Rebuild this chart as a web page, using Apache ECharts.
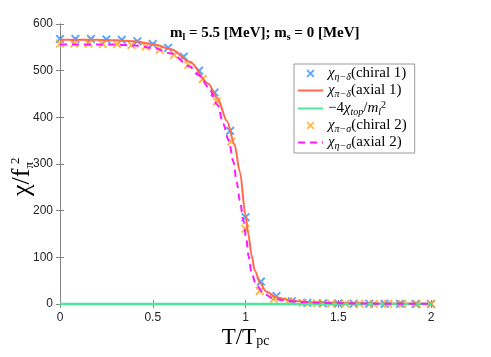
<!DOCTYPE html>
<html>
<head>
<meta charset="utf-8">
<script src="https://cdn.jsdelivr.net/npm/echarts@6/dist/echarts.min.js"></script>
<style>
  html, body { margin: 0; padding: 0; background: #fff; }
  #chart { width: 491px; height: 357px; }
</style>
</head>
<body>
<div id="chart"></div>
<script>
// chi eta-delta (chiral 1), blue crosses
const chiral1T = [0, 0.083, 0.167, 0.25, 0.333, 0.417, 0.5, 0.583, 0.667, 0.75, 0.833, 0.917, 1, 1.083, 1.167, 1.25, 1.333, 1.417, 1.5, 1.583, 1.667, 1.75, 1.833, 1.917, 2]
const chiral1V = [568, 568, 568, 567, 566, 563, 557, 549, 530, 500, 453, 371, 186, 48, 17, 6, 2.5, 1.5, 1.2, 0.8, 0.6, 0.4, 0.3, 0.2, 0.2]
// chi pi-delta (axial 1), solid line
const axial1T = [0, 0.1, 0.2, 0.3, 0.4, 0.5, 0.6, 0.7, 0.8, 0.85, 0.9, 0.94, 0.97, 1, 1.015, 1.033, 1.05, 1.08, 1.11, 1.17, 1.25, 1.35, 1.5, 1.7, 2]
const axial1V = [566, 566, 566, 565, 563, 557, 546, 519, 472, 440, 392, 343, 283, 190, 150, 104, 72, 44, 27, 14, 7, 4, 2, 1, 0.5]
// -4 chi_top / m_l^2
const topoT = [0, 0.5, 1, 1.5, 2]
const topoV = [0, 0, 0, 0, 0]
// chi pi-sigma (chiral 2), orange crosses
const chiral2T = [0, 0.077, 0.154, 0.231, 0.308, 0.385, 0.462, 0.538, 0.615, 0.692, 0.769, 0.846, 0.923, 1, 1.077, 1.154, 1.231, 1.308, 1.385, 1.462, 1.538, 1.615, 1.692, 1.769, 1.846, 1.923, 2]
const chiral2V = [558, 558, 558, 557, 557, 555, 552, 545, 534, 512, 482, 434, 348, 161, 28, 11, 6, 2.5, 1.5, 1, 0.7, 0.5, 0.4, 0.3, 0.2, 0.2, 0.1]
// chi eta-sigma (axial 2), dashed line
const axial2T = [0, 0.1, 0.2, 0.3, 0.4, 0.5, 0.6, 0.7, 0.75, 0.8, 0.85, 0.88, 0.91, 0.935, 0.952, 0.97, 0.988, 1.003, 1.017, 1.033, 1.057, 1.096, 1.14, 1.2, 1.3, 1.4, 1.5, 1.7, 2]
const axial2V = [556, 556, 556, 556, 554, 549, 537, 509, 490, 465, 426, 386, 350, 305, 262, 222, 180, 143, 102, 66, 41, 24, 13, 8, 4, 2.5, 1.5, 0.8, 0.4]

const xTicks = [0, 0.5, 1, 1.5, 2]
const yTicks = [0, 100, 200, 300, 400, 500, 600]

const pair = (t, v) => t.map((x, i) => [x, v[i]])
const cross = 'path://M0,1.5L1.5,0L5,3.5L8.5,0L10,1.5L6.5,5L10,8.5L8.5,10L5,6.5L1.5,10L0,8.5L3.5,5Z'
const serif = 'Liberation Serif'
const axisColor = '#858585'

const legendText = {
  chiral1: '{i|χ}{s|η−δ}{n|(chiral 1)}',
  axial1: '{i|χ}{s|π−δ}{n|(axial 1)}',
  topo: '{n|−4}{i|χ}{s|top}{n|/}{i|m}{s|l}{sup|2}',
  chiral2: '{i|χ}{s|π−σ}{n|(chiral 2)}',
  axial2: '{i|χ}{s|η−σ}{n|(axial 2)}'
}

const boxAxis = (extra) => Object.assign({
  type: 'value',
  axisLine: { show: true, lineStyle: { color: axisColor, width: 1 } },
  axisTick: { show: true, inside: true, length: 4, lineStyle: { color: axisColor } },
  splitLine: { show: false }
}, extra)

let myChart = echarts.init(document.getElementById('chart'))
myChart.setOption({
  animation: false,
  backgroundColor: '#fff',
  title: {
    text: '{b|m}{bs|l}{b| = 5.5 [MeV]; m}{bs|s}{b| = 0 [MeV]}',
    left: 170,
    top: 24,
    padding: 0,
    textStyle: {
      rich: {
        b: { fontFamily: serif, fontWeight: 'bold', fontSize: 15, lineHeight: 18, color: '#000' },
        bs: { fontFamily: serif, fontWeight: 'bold', fontSize: 10, lineHeight: 10, verticalAlign: 'bottom', color: '#000' }
      }
    }
  },
  grid: { left: 60, right: 60, top: 24, bottom: 53 },
  legend: {
    left: 294,
    top: 64,
    orient: 'vertical',
    selectedMode: false,
    backgroundColor: '#fff',
    borderColor: '#9a9a9a',
    borderWidth: 1,
    borderRadius: 0,
    padding: [2, 8, 2, 3],
    itemWidth: 25,
    itemHeight: 8,
    itemGap: 1,
    data: [
      'chiral1',
      { name: 'axial1', itemStyle: { opacity: 0 } },
      { name: 'topo', itemStyle: { opacity: 0 } },
      'chiral2',
      { name: 'axial2', itemStyle: { opacity: 0 } }
    ],
    formatter: (name) => legendText[name],
    textStyle: {
      rich: {
        n: { fontFamily: serif, fontSize: 15, lineHeight: 17, color: '#000' },
        i: { fontFamily: serif, fontSize: 15, lineHeight: 17, fontStyle: 'italic', color: '#000' },
        s: { fontFamily: serif, fontSize: 10, lineHeight: 10, fontStyle: 'italic', verticalAlign: 'bottom', color: '#000' },
        sup: { fontFamily: serif, fontSize: 10, lineHeight: 10, verticalAlign: 'top', color: '#000' }
      }
    }
  },
  xAxis: [
    boxAxis({
      min: 0, max: 2, interval: 0.5,
      axisLabel: { color: '#262626', fontFamily: 'Liberation Sans', fontSize: 12, margin: 8,
        formatter: (v) => xTicks.includes(v) ? String(v) : '' }
    }),
    boxAxis({ position: 'top', min: 0, max: 2, interval: 0.5, axisLabel: { show: false } })
  ],
  yAxis: [
    boxAxis({
      min: 0, max: 600, interval: 100,
      axisLabel: { color: '#262626', fontFamily: 'Liberation Sans', fontSize: 12, margin: 7,
        formatter: (v) => yTicks.includes(v) ? String(v) : '' }
    }),
    boxAxis({ position: 'right', min: 0, max: 600, interval: 100, axisLabel: { show: false } })
  ],
  graphic: [
    {
      type: 'text', x: 36, y: 196, rotation: Math.PI / 2,
      style: {
        text: '{n|χ/f}{s|π}',
        rich: {
          n: { fontFamily: serif, fontSize: 26, lineHeight: 27, color: '#000' },
          s: { fontFamily: serif, fontSize: 13, lineHeight: 13, verticalAlign: 'bottom', color: '#000' }
        },
        verticalAlign: 'bottom'
      }
    },
    {
      type: 'text', x: 22, y: 164, rotation: Math.PI / 2,
      style: { text: '2', fontFamily: serif, fontSize: 13, fill: '#000', verticalAlign: 'bottom' }
    },
    {
      type: 'text', left: 'center', top: 326,
      style: {
        text: '{n|T/T}{s|pc}',
        rich: {
          n: { fontFamily: serif, fontSize: 23, lineHeight: 22, color: '#000' },
          s: { fontFamily: serif, fontSize: 14, lineHeight: 12, verticalAlign: 'bottom', color: '#000' }
        }
      }
    }
  ],
  series: [
    {
      name: 'chiral1', type: 'scatter', data: pair(chiral1T, chiral1V),
      symbol: cross, symbolSize: 9, itemStyle: { color: '#2c8dff' }
    },
    {
      name: 'axial1', type: 'line', data: pair(axial1T, axial1V),
      symbol: 'none', smooth: 0.3, smoothMonotone: 'x',
      lineStyle: { color: '#ff6a4d', width: 2 }, itemStyle: { color: '#ff6a4d' }
    },
    {
      name: 'topo', type: 'line', data: pair(topoT, topoV), clip: false,
      symbol: 'none',
      lineStyle: { color: '#4ee698', width: 2.5 }, itemStyle: { color: '#4ee698' }
    },
    {
      name: 'chiral2', type: 'scatter', data: pair(chiral2T, chiral2V),
      symbol: cross, symbolSize: 9, itemStyle: { color: '#ffa51a' }
    },
    {
      name: 'axial2', type: 'line', data: pair(axial2T, axial2V),
      symbol: 'none', smooth: 0.3, smoothMonotone: 'x',
      lineStyle: { color: '#ff1aff', width: 2, type: [7, 5] }, itemStyle: { color: '#ff1aff' }
    }
  ]
})
</script>
</body>
</html>
